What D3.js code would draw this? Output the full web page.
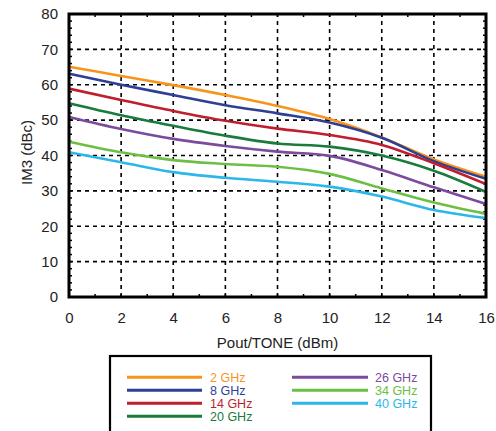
<!DOCTYPE html>
<html><head><meta charset="utf-8">
<script src="https://cdn.jsdelivr.net/npm/d3@7"></script>
<style>body{margin:0;background:#fff}svg{display:block;font-family:"Liberation Sans",Arial,sans-serif}</style>
</head><body><svg id="c" width="496" height="431"></svg>
<script>
const xValues = [0, 2, 4, 6, 8, 10, 12, 14, 16];
const seriesNames = ["2 GHz", "8 GHz", "14 GHz", "20 GHz", "26 GHz", "34 GHz", "40 GHz"];
const seriesColors = ["#F7941D", "#2E3F95", "#BE1E2D", "#1B7A3E", "#7B4B9E", "#6DBE45", "#2BB7EA"];
const s2 = [65.1, 62.5, 59.9, 57.1, 54.0, 50.3, 45.1, 38.9, 34.0];
const s8 = [63.1, 60.0, 57.1, 54.2, 51.9, 49.3, 45.0, 38.4, 33.4];
const s14 = [58.9, 55.7, 52.6, 49.8, 47.6, 45.8, 43.0, 37.8, 31.9];
const s20 = [54.8, 51.4, 48.4, 45.6, 43.4, 42.5, 40.0, 35.7, 29.7];
const s26 = [50.9, 47.5, 44.7, 42.7, 41.1, 39.9, 35.9, 31.0, 26.3];
const s34 = [43.9, 40.9, 38.7, 37.6, 36.8, 34.8, 30.7, 26.7, 23.5];
const s40 = [40.9, 38.1, 35.3, 33.7, 32.6, 31.2, 28.4, 24.6, 22.3];
const seriesValues = [s2, s8, s14, s20, s26, s34, s40];
const xTicks = [0, 2, 4, 6, 8, 10, 12, 14, 16];
const yTicks = [0, 10, 20, 30, 40, 50, 60, 70, 80];
const xMinor = [1, 3, 5, 7, 9, 11, 13, 15];
const yMinor = [2,4,6,8,12,14,16,18,22,24,26,28,32,34,36,38,42,44,46,48,52,54,56,58,62,64,66,68,72,74,76,78];
const xTitle = "Pout/TONE (dBm)";
const yTitle = "IM3 (dBc)";

const svg = d3.select("#c");
const L = 69, R = 486, T = 14, B = 297;
const x = d3.scaleLinear().domain([0, 16]).range([L, R]);
const y = d3.scaleLinear().domain([0, 80]).range([B, T]);

// grid
const grid = svg.append("g").attr("stroke", "#000").attr("stroke-width", 1.6).attr("stroke-dasharray", "4,4");
xTicks.slice(1, -1).forEach(v => grid.append("line").attr("x1", x(v)).attr("x2", x(v)).attr("y1", B).attr("y2", T));
yTicks.slice(1, -1).forEach(v => grid.append("line").attr("y1", y(v)).attr("y2", y(v)).attr("x1", L).attr("x2", R));

// minor ticks inside
const tk = svg.append("g").attr("stroke", "#000").attr("stroke-width", 1.5);
xMinor.concat(xTicks).forEach(v => {
  tk.append("line").attr("x1", x(v)).attr("x2", x(v)).attr("y1", B).attr("y2", B - 3);
  tk.append("line").attr("x1", x(v)).attr("x2", x(v)).attr("y1", T).attr("y2", T + 3);
});
yMinor.concat(yTicks).forEach(v => {
  tk.append("line").attr("y1", y(v)).attr("y2", y(v)).attr("x1", L).attr("x2", L + 3);
  tk.append("line").attr("y1", y(v)).attr("y2", y(v)).attr("x1", R).attr("x2", R - 3);
});

// lines
const line = d3.line().x((d, i) => x(xValues[i])).y(d => y(d)).curve(d3.curveMonotoneX);
seriesValues.forEach((vals, k) => {
  svg.append("path").datum(vals).attr("d", line).attr("fill", "none")
    .attr("stroke", seriesColors[k]).attr("stroke-width", 2.6);
});

// frame
svg.append("rect").attr("x", L).attr("y", T).attr("width", R - L).attr("height", B - T)
  .attr("fill", "none").attr("stroke", "#000").attr("stroke-width", 3);

// axes labels
const xAxis = d3.axisBottom(x).tickValues(xTicks).tickSize(0).tickPadding(15);
const gx = svg.append("g").attr("transform", `translate(0,${B})`).call(xAxis);
gx.select(".domain").remove();
gx.selectAll("text").attr("font-size", 15).attr("fill", "#222").attr("font-family", "Liberation Sans, Arial, sans-serif");
const yAxis = d3.axisLeft(y).tickValues(yTicks).tickSize(0).tickPadding(11);
const gy = svg.append("g").attr("transform", `translate(${L},0)`).call(yAxis);
gy.select(".domain").remove();
gy.selectAll("text").attr("font-size", 15).attr("fill", "#222").attr("font-family", "Liberation Sans, Arial, sans-serif");

svg.append("text").attr("x", (L + R) / 2).attr("y", 348).attr("text-anchor", "middle")
  .attr("font-size", 15).attr("fill", "#222").text(xTitle);
svg.append("text").attr("transform", `translate(32,${(T + B) / 2 - 3}) rotate(-90)`).attr("text-anchor", "middle")
  .attr("font-size", 15).attr("fill", "#222").text(yTitle);

// legend
svg.append("rect").attr("x", 110).attr("y", 356).attr("width", 321).attr("height", 90)
  .attr("fill", "#fff").attr("stroke", "#000").attr("stroke-width", 2.2);
const cols = [{x1: 127, x2: 202, tx: 210}, {x1: 292, x2: 368, tx: 375}];
seriesNames.forEach((n, i) => {
  const c = i < 4 ? cols[0] : cols[1];
  const row = i < 4 ? i : i - 4;
  const yy = 377.3 + row * 13;
  svg.append("line").attr("x1", c.x1).attr("x2", c.x2).attr("y1", yy).attr("y2", yy)
    .attr("stroke", seriesColors[i]).attr("stroke-width", 3);
  svg.append("text").attr("x", c.tx).attr("y", yy + 4.3).attr("font-size", 12.5)
    .attr("fill", seriesColors[i]).text(n);
});
</script></body></html>
